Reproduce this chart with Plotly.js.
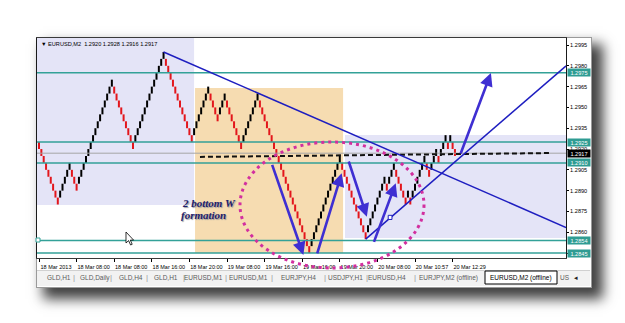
<!DOCTYPE html>
<html><head><meta charset="utf-8">
<script src="https://cdn.plot.ly/plotly-3.0.1.min.js"></script>
<style>
html,body{margin:0;padding:0;background:#fff;}
#wrap{position:relative;width:625px;height:323px;overflow:hidden;background:#fff;}
#frame{position:absolute;left:36px;top:37px;width:554px;height:249px;background:#fff;border:1px solid #9a9a9a;box-shadow:9px 9px 12px 2px rgba(0,0,0,0.75);}
#chart{position:absolute;left:0;top:0;width:625px;height:323px;}
</style></head><body>
<div id="wrap"><div id="frame"></div><div id="chart"></div></div>
<script>
// ---------- data ----------
const brickSize = 0.0005;
const firstBrickTop = 1.2925;
// signed run lengths of renko bricks (+ up / - down)
const brickRuns = [-9, 5, -3, 15, -9, 13, -12, 7, -4, 3, -7, 7, -22, 13, -11, 8, -1, 3, -5, 1, -1, 6, -2, 3, -1, 3, -1, 1, -2];
const timeTickBricks = [1, 17, 33, 49, 65, 81, 97, 113, 129, 145, 161, 177];
const timeTickLabels = ["18 Mar 2013", "18 Mar 08:00", "18 Mar 08:00", "18 Mar 16:00", "18 Mar 20:00", "19 Mar 08:00",
  "19 Mar 16:00", "19 Mar 16:00", "19 Mar 20:00", "20 Mar 08:00", "20 Mar 10:57", "20 Mar 12:29"];
const priceTicks = [1.2995, 1.2980, 1.2965, 1.2950, 1.2935, 1.2920, 1.2905, 1.2890, 1.2875, 1.2860, 1.2845];
const levelLines = [1.2975, 1.2925, 1.2910, 1.2854, 1.2845];
const bidPrice = 1.2917;
const headerText = "▼ EURUSD,M2  1.2920 1.2928 1.2916 1.2917";
const tabNames = ["GLD,H1", "GLD,Daily", "GLD,H4", "GLD,H1", "EURUSD,M1", "EURUSD,M1", "EURJPY,H4", "USDJPY,H1", "EURUSD,H4", "EURJPY,M2 (offline)", "EURUSD,M2 (offline)", "US"];
const activeTab = 10;
// overlays in data units (brick index, price)
const trendLines = [[54, 1.2990, 225.3, 1.28634], [140, 1.2855, 225.3, 1.2980]];
const dashedLevel = [69.5, 1.29143, 218.4, 1.29171];
const arrowsXY = [[100.0, 1.29097, 113.5, 1.28436], [119.2, 1.28436, 129.8, 1.29025], [132.6, 1.29121, 140.5, 1.28712], [143.3, 1.28520, 152.8, 1.28953], [180.2, 1.29157, 193.3, 1.29748]];
const lavenderZones = [[0, 1.28796, 67.0, 1.3002], [131.2, 1.28559, 227, 1.29301]];
const tanZone = [67.4, 1.2845, 130.4, 1.2964];

// ---------- layout geometry ----------
const W = 625, H = 323, PL = 37, PR = 566, PT = 38, PB = 258;
const pxX = px => (px - PL) / (PR - PL);
const pxY = py => (PB - py) / (PB - PT);

// ---------- renko bricks ----------
const upX = [], upBase = [], dnX = [], dnBase = [];
let idx = 0, endLo = null, endHi = null;
brickRuns.forEach((run, r) => {
  const n = Math.abs(run), isUp = run > 0;
  let lo = 0;
  for (let j = 1; j <= n; j++) {
    if (r === 0) lo = firstBrickTop - j * brickSize;
    else if (isUp) lo = endLo + j * brickSize;
    else lo = endHi - (j + 1) * brickSize;
    lo = Math.round(lo * 1e5) / 1e5;
    idx++;
    if (isUp) { upX.push(idx); upBase.push(lo); } else { dnX.push(idx); dnBase.push(lo); }
  }
  if (isUp) { endHi = lo + brickSize; } else { endLo = lo; }
});

const traces = [
  {type: 'bar', x: upX, base: upBase, y: upX.map(() => brickSize), width: 0.85,
   marker: {color: '#000000', line: {width: 0}}, hoverinfo: 'skip', showlegend: false},
  {type: 'bar', x: dnX, base: dnBase, y: dnX.map(() => brickSize), width: 0.85,
   marker: {color: '#e3161c', line: {width: 0}}, hoverinfo: 'skip', showlegend: false}
];

// ---------- shapes ----------
const shapes = [];
lavenderZones.forEach(z => shapes.push({type: 'rect', xref: 'x', yref: 'y', x0: z[0], y0: z[1], x1: z[2], y1: z[3],
  fillcolor: '#e4e4f7', line: {width: 0}, layer: 'below'}));
shapes.push({type: 'rect', xref: 'x', yref: 'y', x0: tanZone[0], y0: tanZone[1], x1: tanZone[2], y1: tanZone[3],
  fillcolor: '#f6dcb1', line: {width: 0}, layer: 'below'});
levelLines.forEach(p => shapes.push({type: 'line', xref: 'paper', yref: 'y', x0: 0, x1: 1, y0: p, y1: p,
  line: {color: '#33a198', width: 1.5}, layer: 'above'}));
shapes.push({type: 'line', xref: 'paper', yref: 'y', x0: 0, x1: 1, y0: bidPrice, y1: bidPrice,
  line: {color: '#a6a6a6', width: 1}, layer: 'above'});
shapes.push({type: 'line', xref: 'x', yref: 'y', x0: dashedLevel[0], y0: dashedLevel[1], x1: dashedLevel[2], y1: dashedLevel[3],
  line: {color: '#111111', width: 2, dash: '5px,3px'}, layer: 'above'});
trendLines.forEach(t => shapes.push({type: 'line', xref: 'x', yref: 'y', x0: t[0], y0: t[1], x1: t[2], y1: t[3],
  line: {color: '#1e1ec0', width: 1.5}, layer: 'above'}));
// trendline mid handle
shapes.push({type: 'rect', xref: 'x', yref: 'y', x0: 149.6, x1: 151.2, y0: 1.28692, y1: 1.28722,
  fillcolor: '#ffffff', line: {color: '#1e1ec0', width: 1}, layer: 'above'});
// hline handle at left
shapes.push({type: 'rect', xref: 'paper', yref: 'paper', x0: pxX(36), x1: pxX(40), y0: pxY(242), y1: pxY(238),
  fillcolor: '#ffffff', line: {color: '#33a198', width: 1}, layer: 'above'});
// dotted ellipse
shapes.push({type: 'circle', xref: 'paper', yref: 'paper', x0: pxX(240), x1: pxX(424), y0: pxY(268), y1: pxY(142),
  line: {color: '#d22f9f', width: 3, dash: '3px,4px'}, layer: 'above'});
// tab bar
shapes.push({type: 'rect', xref: 'paper', yref: 'paper', x0: pxX(37), x1: pxX(590), y0: pxY(286), y1: pxY(270),
  fillcolor: '#f2f2f2', line: {width: 0}, layer: 'above'});
shapes.push({type: 'line', xref: 'paper', yref: 'paper', x0: pxX(37), x1: pxX(590), y0: pxY(270.5), y1: pxY(270.5),
  line: {color: '#d0d0d0', width: 1}, layer: 'above'});
shapes.push({type: 'rect', xref: 'paper', yref: 'paper', x0: pxX(485), x1: pxX(557), y0: pxY(284), y1: pxY(271),
  fillcolor: '#ffffff', line: {color: '#000000', width: 1}, layer: 'above'});
// mouse cursor
const cur = [[126, 232], [126, 243], [128.6, 240.6], [130.6, 245], [132.2, 244.3], [130.3, 240.1], [133.6, 240.1]];
shapes.push({type: 'path', xref: 'paper', yref: 'paper',
  path: 'M' + cur.map(c => pxX(c[0]).toFixed(5) + ',' + pxY(c[1]).toFixed(5)).join(' L') + ' Z',
  fillcolor: '#ffffff', line: {color: '#000000', width: 0.8}, layer: 'above'});

// ---------- annotations ----------
const ann = [];
arrowsXY.forEach(a => ann.push({xref: 'x', yref: 'y', axref: 'x', ayref: 'y', ax: a[0], ay: a[1], x: a[2], y: a[3],
  text: '', showarrow: true, arrowhead: 2, arrowsize: 1, arrowwidth: 2.6, arrowcolor: '#3f2fd2', standoff: 0}));
// price boxes
const boxes = levelLines.map(p => [p, '#2f9c93', 0]).concat([[bidPrice, '#000000', -0.5]]);
boxes.forEach(b => ann.push({xref: 'paper', yref: 'y', x: 1, y: b[0], xanchor: 'left', yanchor: 'middle', xshift: 0.5, yshift: b[2],
  text: b[0].toFixed(4), showarrow: false, bgcolor: b[1], width: 21, height: 6, borderpad: 0.5,
  font: {family: 'Liberation Sans, Arial, sans-serif', size: 5.6, color: '#ffffff'}}));
// header
ann.push({xref: 'paper', yref: 'paper', x: pxX(39), y: pxY(43.5), xanchor: 'left', yanchor: 'middle', showarrow: false,
  text: headerText, font: {family: 'Liberation Sans, Arial, sans-serif', size: 5.6, color: '#000'}});
// pattern text
const txtFont = {family: 'Liberation Serif, Times New Roman, serif', size: 11, color: '#1e1c6a', shadow: '1px 1px 1px #9a9a9a'};
ann.push({xref: 'paper', yref: 'paper', x: pxX(180), y: pxY(203), xanchor: 'left', yanchor: 'middle', showarrow: false,
  text: '<b><i>2 bottom W</i></b>', font: txtFont});
ann.push({xref: 'paper', yref: 'paper', x: pxX(178.5), y: pxY(214.5), xanchor: 'left', yanchor: 'middle', showarrow: false,
  text: '<b><i>formation</i></b>', font: txtFont});
// tabs
const tabCenters = [59, 95, 131, 166, 203, 248, 298, 345, 387, 448, 521, 565];
const sepPos = [74, 111, 147, 184, 226, 272, 325, 367, 415];
tabNames.forEach((t, i) => ann.push({xref: 'paper', yref: 'paper', x: pxX(tabCenters[i]), y: pxY(277.5), xanchor: 'center', yanchor: 'middle',
  showarrow: false, text: t, font: {family: 'Liberation Sans, Arial, sans-serif', size: 6.5, color: i === activeTab ? '#000' : '#5a5a5a'}}));
sepPos.forEach(s => ann.push({xref: 'paper', yref: 'paper', x: pxX(s), y: pxY(277.5), xanchor: 'center', yanchor: 'middle',
  showarrow: false, text: '|', font: {family: 'Liberation Sans, Arial, sans-serif', size: 8, color: '#9a9a9a'}}));
ann.push({xref: 'paper', yref: 'paper', x: pxX(576), y: pxY(277.5), xanchor: 'center', yanchor: 'middle',
  showarrow: false, text: '◂', font: {family: 'DejaVu Sans, sans-serif', size: 7, color: '#222'}});

const layout = {
  width: W, height: H,
  margin: {l: PL, r: W - PR, t: PT, b: H - PB, pad: 0},
  paper_bgcolor: 'rgba(0,0,0,0)', plot_bgcolor: '#ffffff',
  barmode: 'overlay', showlegend: false, hovermode: false,
  xaxis: {range: [1 - 2 / 2.35, 1 - 2 / 2.35 + (PR - PL) / 2.35], showgrid: false, zeroline: false,
    showline: true, mirror: true, linecolor: '#3a3a3a', linewidth: 1,
    tickmode: 'array', tickvals: timeTickBricks, ticktext: timeTickLabels,
    ticks: 'outside', ticklen: 3, tickcolor: '#000', tickwidth: 1, ticklabelshift: 17,
    tickfont: {family: 'Liberation Sans, Arial, sans-serif', size: 5.5, color: '#000'}, fixedrange: true},
  yaxis: {range: [1.2995 - (PB - 45) / 13870, 1.2995 + (45 - PT) / 13870], side: 'right', showgrid: false, zeroline: false,
    showline: true, mirror: true, linecolor: '#1a1a1a', linewidth: 1,
    tickmode: 'array', tickvals: priceTicks, ticktext: priceTicks.map(v => v.toFixed(4)),
    ticks: 'outside', ticklen: 2, tickcolor: '#000', tickwidth: 1,
    tickfont: {family: 'Liberation Sans, Arial, sans-serif', size: 5.6, color: '#000'}, fixedrange: true},
  shapes: shapes,
  annotations: ann
};
Plotly.newPlot('chart', traces, layout, {staticPlot: true, displayModeBar: false});
</script>
</body></html>
